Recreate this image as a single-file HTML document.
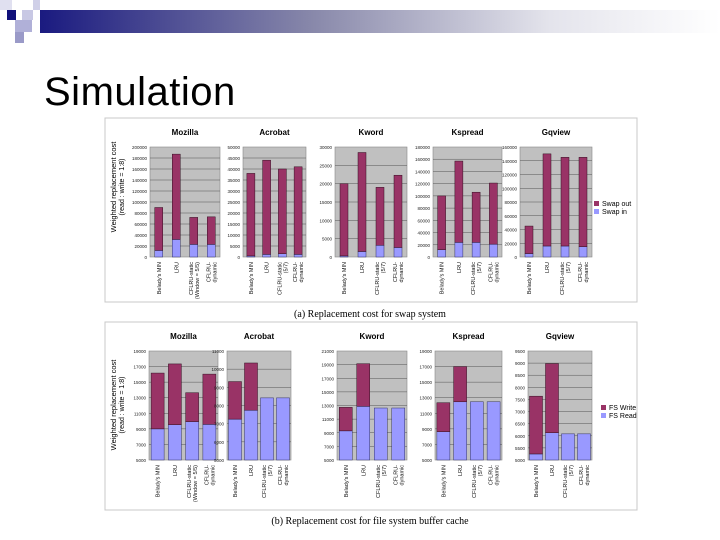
<!DOCTYPE html>
<html><head><meta charset="utf-8"><style>
html,body{margin:0;padding:0;background:#fff;width:720px;height:540px;overflow:hidden;font-family:"Liberation Sans",sans-serif}
#title{position:absolute;left:44px;top:70px;font-size:40px;color:#000;letter-spacing:0.5px}
</style></head><body>
<svg width="720" height="540" style="position:absolute;left:0;top:0">
<defs><linearGradient id="hg" x1="0" x2="1"><stop offset="0" stop-color="#1a1a80"/><stop offset="0.4" stop-color="#8888aa"/><stop offset="0.75" stop-color="#e4e4ec"/><stop offset="1" stop-color="#ffffff"/></linearGradient></defs>
<rect x="40" y="10" width="680" height="23" fill="url(#hg)"/>
<rect x="0" y="0" width="12" height="10" fill="#e0e0f0"/>
<rect x="33" y="0" width="7" height="10" fill="#d0d0e8"/>
<rect x="7" y="10" width="9" height="10" fill="#10107a"/>
<rect x="22" y="10" width="11" height="10" fill="#c8c8e4"/>
<rect x="15" y="20" width="17" height="12" fill="#b0b0d8"/>
<rect x="15" y="32" width="9" height="11" fill="#9a9ac8"/>
</svg>
<div id="title">Simulation</div>
<svg id="ch" width="720" height="540" style="position:absolute;left:0;top:0"></svg>
<script>
const names=["Mozilla","Acrobat","Kword","Kspread","Gqview"];
const catsTop=[["Belady's MIN"],["LRU"],["CFLRU-static","(Window = 5/5)"],["CFLRU-","dynamic"]];
const catsTop2=[["Belady's MIN"],["LRU"],["CFLRU-static","(5/7)"],["CFLRU-","dynamic"]];
const topMax=[200000,50000,30000,180000,160000];
const topStep=[20000,5000,5000,20000,20000];
const swapIn=[[12000,32000,23000,23000],[500,1200,1500,1200],[300,1500,3200,2600],[12000,24000,24000,21000],[5000,16000,16000,15000]];
const swapTotal=[[90000,187000,72000,73000],[38000,44000,40000,41000],[20000,28500,19000,22300],[100000,157000,106000,121000],[45000,150000,145000,145000]];
const botMin=[5000,5000,5000,5000,5000];
const botMax=[19000,11000,21000,19000,9500];
const botStep=[2000,1000,2000,2000,500];
const fsRead=[[9000,9535,9930,9580],[7250,7740,8420,8420],[9280,12880,12630,12630],[8635,12480,12480,12480],[5250,6125,6080,6080]];
const fsTotal=[[16165,17340,13640,16030],[9317,10340,8420,8420],[12730,19130,12630,12630],[12355,17000,12480,12480],[7634,8980,6080,6080]];

const NS="http://www.w3.org/2000/svg";
const svg=document.getElementById('ch');
function mk(t,a,p){const e=document.createElementNS(NS,t);for(const k in a)e.setAttribute(k,a[k]);(p||svg).appendChild(e);return e;}
function txt(s,a,p){const e=mk('text',a,p);e.textContent=s;return e;}

// panel frames
const f1=mk('rect',{x:105,y:118,width:532,height:184,fill:'#fff',stroke:'#c8c8c8'});


const f2=mk('rect',{x:105,y:322,width:532,height:188,fill:'#fff',stroke:'#c8c8c8'});


const c1=txt('(a) Replacement cost for swap system',{x:370,y:317,'font-size':10,'font-family':'Liberation Serif, serif','text-anchor':'middle'});


const c2=txt('(b) Replacement cost for file system buffer cache',{x:370,y:524,'font-size':10,'font-family':'Liberation Serif, serif','text-anchor':'middle'});



function subplot(i,px,pw,py,ph,mn,mx,step,lo,hi,cats,bw,tag){
  const g=mk('g',{});
  
  
  const y=v=>py+ph-(v-mn)/(mx-mn)*ph;
  mk('rect',{x:px,y:py,width:pw,height:ph,fill:'#c0c0c0',stroke:'#888','stroke-width':0.6},g);
  const t=txt(names[i],{x:px+pw/2,y:py-12,'font-size':8,'font-weight':'bold','text-anchor':'middle'},g);
  
  
  for(let v=mn;v<=mx+1e-6;v+=step){
    if(v>mn&&v<mx)mk('line',{x1:px,x2:px+pw,y1:y(v),y2:y(v),stroke:'#555','stroke-width':0.5},g);
    const l=txt(String(v),{x:px-3,y:y(v)+2,'font-size':4.5,'text-anchor':'end',fill:'#222'},g);
    
    
  }
  const slot=pw/4;
  for(let k=0;k<4;k++){
    const cx=px+slot*(k+0.5);
    const b1=mk('rect',{x:cx-bw/2,y:y(lo[i][k]),width:bw,height:y(mn)-y(lo[i][k]),fill:'#9999ff',stroke:'#333366','stroke-width':0.5},g);
    
    
    if(hi[i][k]>lo[i][k]){
      const b2=mk('rect',{x:cx-bw/2,y:y(hi[i][k]),width:bw,height:y(lo[i][k])-y(hi[i][k]),fill:'#993366',stroke:'#331122','stroke-width':0.5},g);
      
      
    }
    const lines=cats[k];
    lines.forEach((s,j)=>{
      const xx=cx-(lines.length-1)*3+j*6+2;
      const yy=py+ph+5;
      const l=txt(s,{x:xx,y:yy,'font-size':5.5,'text-anchor':'end',transform:`rotate(-90 ${xx} ${yy})`,fill:'#111'},g);
      
      
    });
  }
}
const topX=[[150,70],[243,63],[335,72],[433,69],[520,72]];
const botX=[[149,69],[227,64],[337,70],[435,67],[528,64]];
for(let i=0;i<5;i++){
  subplot(i,topX[i][0],topX[i][1],147,110,0,topMax[i],topStep[i],swapIn,swapTotal,i==0?catsTop:catsTop2,8,'swap-chart');
  subplot(i,botX[i][0],botX[i][1],351,109,botMin[i],botMax[i],botStep[i],fsRead,fsTotal,i==0?catsTop:catsTop2,13,'buffer-chart');
}
// y axis titles
const ya=txt('Weighted replacement cost',{x:0,y:0,'font-size':7.5,'text-anchor':'middle',transform:'translate(116 187) rotate(-90)'});


const ya2=txt('(read : write = 1:8)',{x:0,y:0,'font-size':7,'text-anchor':'middle',transform:'translate(124 187) rotate(-90)'});


const yb=txt('Weighted replacement cost',{x:0,y:0,'font-size':7.5,'text-anchor':'middle',transform:'translate(116 405) rotate(-90)'});


const yb2=txt('(read : write = 1:8)',{x:0,y:0,'font-size':7,'text-anchor':'middle',transform:'translate(124 405) rotate(-90)'});


// legends
function legend(x,y,labels,tag){
  const cols=['#993366','#9999ff'];
  labels.forEach((s,j)=>{
    const r=mk('rect',{x:x,y:y+j*8-4,width:5,height:5,fill:cols[j]});
    
    
    const t=txt(s,{x:x+8,y:y+j*8+1,'font-size':7});
    
    
  });
}
legend(594,205,['Swap out','Swap in'],'legend-a');
legend(601,409,['FS Write','FS Read'],'legend-b');
</script>
</body></html>
